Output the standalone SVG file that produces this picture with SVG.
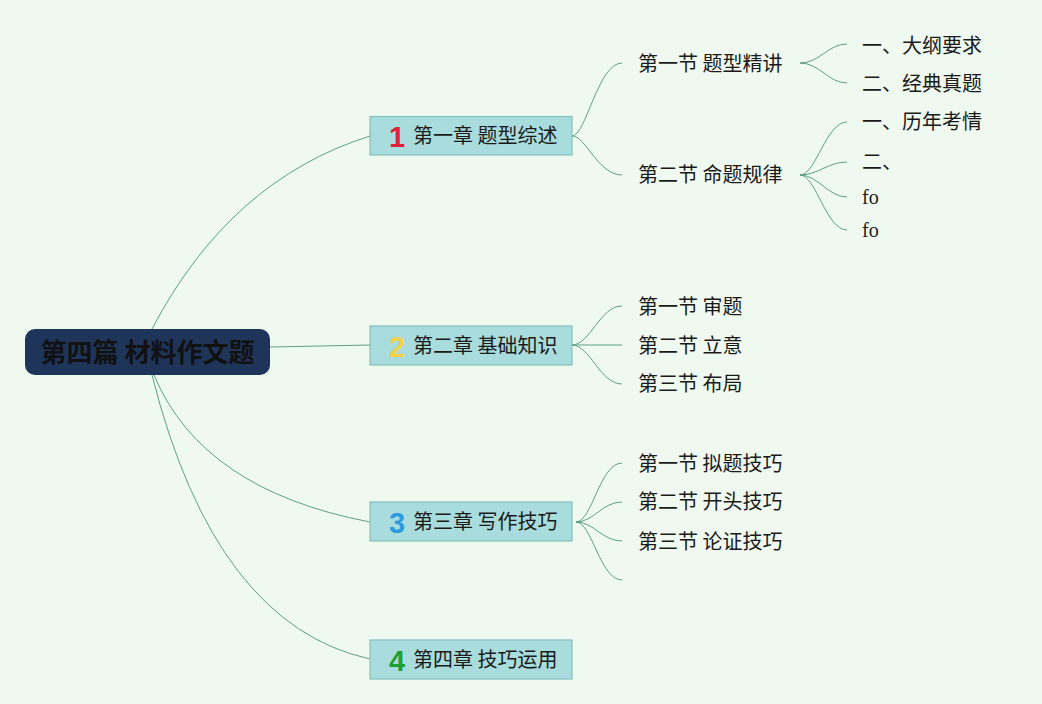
<svg xmlns="http://www.w3.org/2000/svg" width="1042" height="704" viewBox="0 0 1042 704">
<style>
.cjk{font-family:"Noto Sans CJK SC","Noto Sans",sans-serif;font-size:20px;fill:#1a1a1a}
.root{font-family:"Noto Sans CJK SC","Noto Sans",sans-serif;font-size:26px;font-weight:bold;fill:#111111}
.num{font-family:"Liberation Sans",Arial,sans-serif;font-size:29px;font-weight:bold}
.ser{font-family:"Liberation Serif","Times New Roman",serif;font-size:20px;fill:#1a1a1a}
.box{fill:#a9dcdc;stroke:#85bfbf;stroke-width:1.2}
.conn path{fill:none;stroke:#5e9e88;stroke-width:1}
</style>
<rect x="0" y="0" width="1042" height="704" fill="#f0f9ef"/>
<g class="conn" id="connectors">
<path d="M152,329 Q230,180 370,136"/>
<path d="M270,347 L370,345"/>
<path d="M154,375 Q202,490 370,522"/>
<path d="M152,375 Q215,625 370,659"/>
<path d="M572,136 C586,136 598,63 622,63"/>
<path d="M572,136 C586,136 598,175 622,175"/>
<path d="M800,63 C820,63 828,44 847,44"/>
<path d="M800,63 C820,63 828,83 847,83"/>
<path d="M800,175 C816,175 826,122 847,122"/>
<path d="M800,175 C818,175 828,162 847,162"/>
<path d="M800,175 C818,175 828,197 847,197"/>
<path d="M800,175 C816,175 826,230 847,230"/>
<path d="M572,345 C590,345 600,306 622,306"/>
<path d="M572,345 L622,345"/>
<path d="M572,345 C590,345 600,384 622,384"/>
<path d="M576,522 C592,522 600,463 622,463"/>
<path d="M576,522 C594,522 602,502 622,502"/>
<path d="M576,522 C594,522 602,541 622,541"/>
<path d="M576,522 C592,522 600,580 622,580"/>
</g>
<g id="root">
<rect x="25" y="329" width="245" height="46" rx="10" fill="#1e3458"/>
<text class="root" x="147.5" y="362" text-anchor="middle">第四篇 材料作文题</text>
</g>
<g id="ch1">
<rect class="box" x="370" y="116.5" width="202" height="38.5"/>
<text class="num" x="389" y="147" fill="#e0213b">1</text>
<text class="cjk" x="413" y="142.5">第一章 题型综述</text>
</g>
<g id="ch2">
<rect class="box" x="370" y="326" width="202" height="39"/>
<text class="num" x="389" y="357" fill="#f3d24b">2</text>
<text class="cjk" x="413" y="352.5">第二章 基础知识</text>
</g>
<g id="ch3">
<rect class="box" x="370" y="502" width="202" height="39"/>
<text class="num" x="389" y="533" fill="#2b9ae0">3</text>
<text class="cjk" x="413" y="528.5">第三章 写作技巧</text>
</g>
<g id="ch4">
<rect class="box" x="370" y="640" width="202" height="39"/>
<text class="num" x="389" y="671" fill="#1f9f32">4</text>
<text class="cjk" x="413" y="666.5">第四章 技巧运用</text>
</g>
<g id="s1-1"><text class="cjk" x="638" y="71">第一节 题型精讲</text></g>
<g id="s1-2"><text class="cjk" x="638" y="182">第二节 命题规律</text></g>
<g id="s1-1-1"><text class="cjk" x="862" y="53">一、大纲要求</text></g>
<g id="s1-1-2"><text class="cjk" x="862" y="91">二、经典真题</text></g>
<g id="s1-2-1"><text class="cjk" x="862" y="129">一、历年考情</text></g>
<g id="s1-2-2"><text class="cjk" x="862" y="169">二、</text></g>
<g id="s1-2-3"><text class="ser" x="862" y="204">fo</text></g>
<g id="s1-2-4"><text class="ser" x="862" y="237">fo</text></g>
<g id="s2-1"><text class="cjk" x="638" y="314">第一节 审题</text></g>
<g id="s2-2"><text class="cjk" x="638" y="353">第二节 立意</text></g>
<g id="s2-3"><text class="cjk" x="638" y="391">第三节 布局</text></g>
<g id="s3-1"><text class="cjk" x="638" y="471">第一节 拟题技巧</text></g>
<g id="s3-2"><text class="cjk" x="638" y="509">第二节 开头技巧</text></g>
<g id="s3-3"><text class="cjk" x="638" y="549">第三节 论证技巧</text></g>
</svg>
